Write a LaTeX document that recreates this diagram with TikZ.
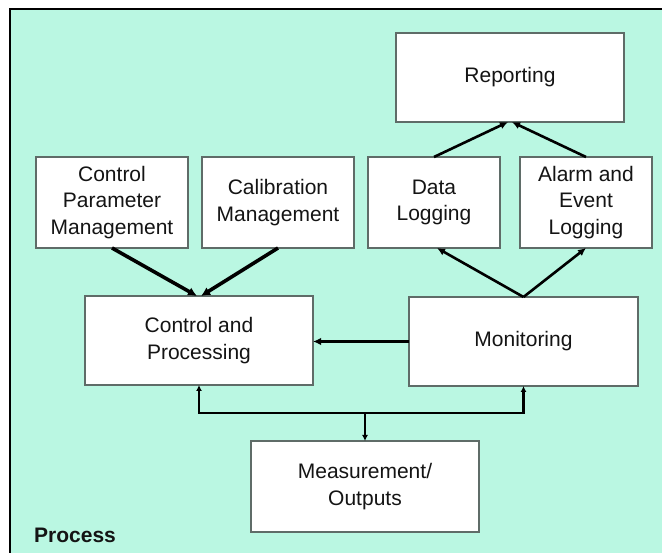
\documentclass[tikz,border=0pt]{standalone}
\usepackage{fontspec}
\setmainfont{Liberation Sans}
\usetikzlibrary{arrows.meta,calc}
\definecolor{mint}{RGB}{186,247,226}
\definecolor{boxline}{RGB}{95,108,104}
\definecolor{ink}{RGB}{20,20,20}
\tikzset{
  blk/.style={draw=boxline, line width=1.3pt, fill=white, inner sep=0pt, outer sep=0pt,
              align=center, text=ink, font=\fontsize{21}{26.5}\selectfont},
  flow/.style={draw=black, line width=2.6pt, -{Latex[length=8pt,width=7.5pt]}},
  heavy/.style={draw=black, line width=3.6pt, -{Latex[length=9pt,width=9pt]}},
  bus/.style={draw=black, line width=2.6pt},
  busarr/.style={bus, -{Latex[length=6pt,width=6pt]}}
}
\begin{document}
\begin{tikzpicture}[x=1pt,y=-1pt]
  \useasboundingbox (0,0) rectangle (662,553);
  % panel
  \fill[white] (0,0) rectangle (662,553);
  \fill[mint] (10,9) rectangle (662,553);
  \draw[black, line width=1.6pt] (10,553) -- (10,9) -- (662,9);

  % blocks
  \node[blk, minimum width=228pt, minimum height=89pt] (rep)  at (510,77.5) {Reporting};
  \node[blk, minimum width=152pt, minimum height=91pt] (cpm)  at (112,202.5) {Control\\Parameter\\Management};
  \node[blk, minimum width=152pt, minimum height=91pt] (cal)  at (278,202.5) {Calibration\\Management};
  \node[blk, minimum width=132pt, minimum height=91pt] (dlog) at (434,202.5) {Data\\Logging};
  \node[blk, minimum width=132pt, minimum height=91pt] (alm)  at (586,202.5) {Alarm and\\Event\\Logging};
  \node[blk, minimum width=228pt, minimum height=89pt] (ctrl) at (199,340.5) {Control and\\Processing};
  \node[blk, minimum width=229pt, minimum height=89pt] (mon)  at (523.5,341.5) {Monitoring};
  \node[blk, minimum width=228pt, minimum height=91pt] (meas) at (365,486.5) {Measurement/\\Outputs};

  \node[anchor=base west, inner sep=0pt, font=\fontsize{21}{25}\selectfont\bfseries, text=ink]
    (proc) at (34,542.5) {Process};

  % connectors
  \draw[flow] (dlog.north) -- ([xshift=-2pt]rep.south);
  \draw[flow] (alm.north) -- ([xshift=2pt]rep.south);
  \draw[heavy] (cpm.south) -- ([xshift=-2pt]ctrl.north);
  \draw[heavy] (cal.south) -- ([xshift=2pt]ctrl.north);
  \draw[flow] (mon.north) -- ([xshift=3pt]dlog.south);
  \draw[flow] (mon.north) -- (alm.south);
  \draw[flow] (mon.west) -- (ctrl.east |- mon.west);

  \coordinate (hub) at (meas.north |- 0,413);
  \draw[busarr] (hub) -| (ctrl.south);
  \draw[busarr] (hub) -| (mon.south);
  \draw[busarr] (hub) -- (meas.north);
\end{tikzpicture}
\end{document}
